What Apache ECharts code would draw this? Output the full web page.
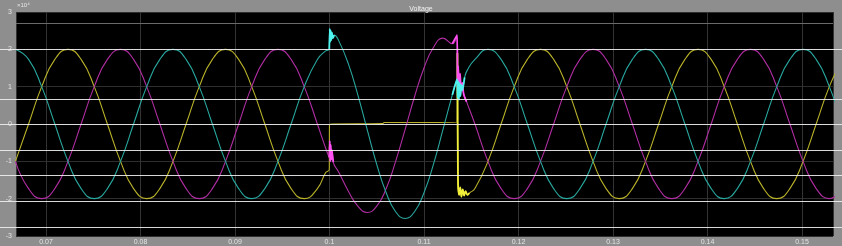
<!DOCTYPE html>
<html>
<head>
<meta charset="utf-8">
<script src="https://cdn.jsdelivr.net/npm/echarts@6/dist/echarts.min.js"></script>
<style>
html,body{margin:0;padding:0;background:#8e8e8e;}
#chart{width:842px;height:246px;}
</style>
</head>
<body>
<div id="chart"></div>
<script>
// ---- data (values in units of 10^4 V, time in s) ----
var chartTitle = 'Voltage';
var yTicks = [-3, -2, -1, 0, 1, 2, 3];

// pre-fault samples
var tPre = [0.06677, 0.06816, 0.06955, 0.07094, 0.07233, 0.07372, 0.07511, 0.07650, 0.07789, 0.07927, 0.08066, 0.08205, 0.08344, 0.08483, 0.08622, 0.08761, 0.08900, 0.09039, 0.09177, 0.09316, 0.09455, 0.09594, 0.09733, 0.09872];
var yellowPre  = [-1, 0, 1, 1.73, 2, 1.73, 1, 0, -1, -1.73, -2, -1.73, -1, 0, 1, 1.73, 2, 1.73, 1, 0, -1, -1.73, -2, -1.73];
var magentaPre = [-1, -1.73, -2, -1.73, -1, 0, 1, 1.73, 2, 1.73, 1, 0, -1, -1.73, -2, -1.73, -1, 0, 1, 1.73, 2, 1.73, 1, 0];
var cyanPre    = [2, 1.73, 1, 0, -1, -1.73, -2, -1.73, -1, 0, 1, 1.73, 2, 1.73, 1, 0, -1, -1.73, -2, -1.73, -1, 0, 1, 1.73];

// fault interval and transients [t, v]
var yellowFault = [[0.09960, -1.30], [0.09998, -1.22], [0.10000, -0.02], [0.10040, 0.00], [0.10560, 0.01], [0.10580, 0.04], [0.11000, 0.04], [0.11350, 0.05], [0.11354, 1.90], [0.11360, -1.55], [0.11372, -1.90], [0.11384, -1.70], [0.11396, -1.95], [0.11410, -1.75], [0.11425, -1.92], [0.11440, -1.80], [0.11460, -1.90], [0.11480, -1.85]];
var magentaFault = [[0.09960, -0.65], [0.09998, -0.90], [0.10003, -0.45], [0.10008, -1.00], [0.10013, -0.55], [0.10019, -0.95], [0.10026, -0.70], [0.10040, -1.02], [0.10100, -1.30], [0.10200, -1.80], [0.10300, -2.20], [0.10400, -2.37], [0.10500, -2.20], [0.10600, -1.73], [0.10700, -1.00], [0.10800, -0.15], [0.10900, 0.73], [0.11000, 1.50], [0.11100, 2.05], [0.11200, 2.30], [0.11300, 2.15], [0.11350, 2.38], [0.11356, 1.00], [0.11363, 1.55], [0.11372, 0.85], [0.11382, 1.35], [0.11393, 0.90], [0.11405, 1.10], [0.11420, 0.80], [0.11450, 0.60]];
var cyanFault = [[0.09960, 1.96], [0.09998, 2.00], [0.10003, 2.55], [0.10008, 2.20], [0.10013, 2.50], [0.10019, 2.25], [0.10026, 2.45], [0.10035, 2.30], [0.10050, 2.38], [0.10100, 2.22], [0.10200, 1.61], [0.10300, 0.78], [0.10400, -0.16], [0.10500, -1.08], [0.10600, -1.84], [0.10700, -2.35], [0.10800, -2.53], [0.10900, -2.35], [0.11000, -1.84], [0.11100, -1.08], [0.11200, -0.16], [0.11300, 0.78], [0.11350, 1.20], [0.11356, 0.70], [0.11363, 1.15], [0.11370, 0.65], [0.11378, 1.10], [0.11386, 0.75], [0.11395, 1.05], [0.11405, 0.90], [0.11430, 1.25], [0.11460, 1.45]];

// post-fault samples
var tPost = [0.11539, 0.11677, 0.11816, 0.11955, 0.12094, 0.12233, 0.12372, 0.12511, 0.12650, 0.12789, 0.12927, 0.13066, 0.13205, 0.13344, 0.13483, 0.13622, 0.13761, 0.13900, 0.14039, 0.14177, 0.14316, 0.14455, 0.14594, 0.14733, 0.14872, 0.15011, 0.15150, 0.15289, 0.15427];
var yellowPost  = [-1.73, -1, 0, 1, 1.73, 2, 1.73, 1, 0, -1, -1.73, -2, -1.73, -1, 0, 1, 1.73, 2, 1.73, 1, 0, -1, -1.73, -2, -1.73, -1, 0, 1, 1.73];
var magentaPost = [0, -1, -1.73, -2, -1.73, -1, 0, 1, 1.73, 2, 1.73, 1, 0, -1, -1.73, -2, -1.73, -1, 0, 1, 1.73, 2, 1.73, 1, 0, -1, -1.73, -2, -1.73];
var cyanPost    = [1.73, 2, 1.73, 1, 0, -1, -1.73, -2, -1.73, -1, 0, 1, 1.73, 2, 1.73, 1, 0, -1, -1.73, -2, -1.73, -1, 0, 1, 1.73, 2, 1.73, 1, 0];

// bright horizontal streaks across the picture (value units)
var streakLines = [2.01, 0.67, 0, -0.70, -1.37, -2.06, -2.76];
var faintStreaks = [2.71];

// ---- build ----
function build(tA, vA, fault, tB, vB) {
  var out = [];
  for (var i = 0; i < tA.length; i++) out.push([tA[i], vA[i]]);
  for (var j = 0; j < fault.length; j++) out.push(fault[j]);
  for (var k = 0; k < tB.length; k++) out.push([tB[k], vB[k]]);
  return out;
}
var phases = [
  { name: 'Va', color: '#b9b22a', data: build(tPre, yellowPre, yellowFault, tPost, yellowPost) },
  { name: 'Vb', color: '#b02ea2', data: build(tPre, magentaPre, magentaFault, tPost, magentaPost) },
  { name: 'Vc', color: '#28a79e', data: build(tPre, cyanPre, cyanFault, tPost, cyanPost) }
];
// transient bursts drawn brighter
var bursts = [
  { color: '#f2ef3a', data: yellowFault.slice(8, 18) },
  { color: '#ff50f2', data: magentaFault.slice(1, 8) },
  { color: '#ff50f2', data: magentaFault.slice(20, 30) },
  { color: '#50f2ee', data: cyanFault.slice(1, 9) },
  { color: '#50f2ee', data: cyanFault.slice(21, 31) }
];

var chart = echarts.init(document.getElementById('chart'), null, { renderer: 'canvas' });
var labelFont = { fontFamily: 'Liberation Sans, DejaVu Sans, sans-serif', fontSize: 7, color: '#e4e4e4' };

var series = phases.map(function (p) {
  return {
    name: p.name, type: 'line', xAxisIndex: 0, yAxisIndex: 0,
    data: p.data, showSymbol: false, smooth: 0.5, clip: true,
    lineStyle: { color: p.color, width: 1.1 }, z: 3, silent: true
  };
});
bursts.forEach(function (b) {
  series.push({
    type: 'line', xAxisIndex: 0, yAxisIndex: 0, data: b.data, showSymbol: false,
    smooth: 0.3, clip: true, lineStyle: { color: b.color, width: 1.8 }, z: 4, silent: true
  });
});
series.push({
  type: 'line', xAxisIndex: 0, yAxisIndex: 0, data: [], z: 4, silent: true,
  markLine: { silent: true, symbol: ['none', 'none'], label: { show: false },
    lineStyle: { color: '#6a6a6a', width: 1, type: 'solid' },
    data: faintStreaks.map(function (v) { return { yAxis: v }; }) }
});
series.push({
  type: 'line', xAxisIndex: 1, yAxisIndex: 1, data: [], z: 5, silent: true,
  markLine: { silent: true, symbol: ['none', 'none'], label: { show: false },
    lineStyle: { color: '#efefef', width: 1, type: 'solid', opacity: 0.9 },
    data: streakLines.map(function (v) { return { yAxis: v }; }) }
});

chart.setOption({
  animation: false,
  backgroundColor: '#8e8e8e',
  title: { text: chartTitle, left: 'center', top: 1,
    textStyle: { fontFamily: 'Liberation Sans, DejaVu Sans, sans-serif', fontSize: 7, fontWeight: 'normal', color: '#f2f2f2' } },
  graphic: [{ type: 'text', left: 17, top: 2,
    style: { text: '\u00d710\u2074', fontSize: 6, fill: '#e6e6e6', fontFamily: 'Liberation Sans, DejaVu Sans, sans-serif' } }],
  grid: [
    { left: 16, right: 9, top: 12, bottom: 10, show: true, backgroundColor: '#000000', borderWidth: 0 },
    { left: 0, right: 0, top: 12, bottom: 10, show: false }
  ],
  xAxis: [
    { type: 'value', gridIndex: 0, min: 0.06683, max: 0.15328, minInterval: 0.01, maxInterval: 0.01,
      axisLine: { show: false }, axisTick: { show: false },
      axisLabel: Object.assign({ margin: 3, showMinLabel: false, showMaxLabel: false }, labelFont),
      splitLine: { show: true, lineStyle: { color: '#333333', width: 1 } } },
    { type: 'value', gridIndex: 1, min: 0, max: 1, show: false }
  ],
  yAxis: [
    { type: 'value', gridIndex: 0, min: yTicks[0], max: yTicks[yTicks.length - 1], interval: 1,
      axisLine: { show: false }, axisTick: { show: false },
      axisLabel: Object.assign({ margin: 4 }, labelFont),
      splitLine: { show: true, lineStyle: { color: '#2e2e2e', width: 1 } } },
    { type: 'value', gridIndex: 1, min: yTicks[0], max: yTicks[yTicks.length - 1], show: false }
  ],
  series: series
});
</script>
</body>
</html>
